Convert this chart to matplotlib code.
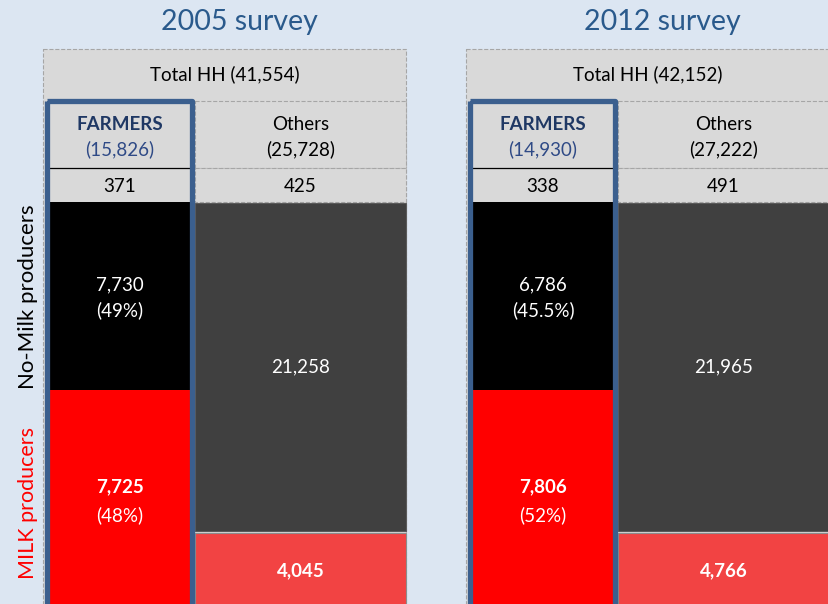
import matplotlib.pyplot as plt
from matplotlib.patches import Rectangle

plt.rcParams['font.family'] = ['Lato', 'DejaVu Sans']

# Survey data
surveys = ['2005 survey', '2012 survey']
total_hh = [41554, 42152]
farmers = [15826, 14930]
others = [25728, 27222]
farmers_missing = [371, 338]
others_missing = [425, 491]
farmers_nomilk = [7730, 6786]
farmers_nomilk_pct = ['49%', '45.5%']
farmers_milk = [7725, 7806]
farmers_milk_pct = ['48%', '52%']
others_nomilk = [21258, 21965]
others_milk = [4045, 4766]

bg = '#DCE6F2'
cell = '#D9D9D9'
navy = '#1F3864'
frame_blue = '#3B5F8E'
title_blue = '#2A5A8C'
fs = 13.5

fig = plt.figure(figsize=(8.29, 6.04), dpi=100, facecolor=bg)
ax = fig.add_axes([0, 0, 1, 1])
ax.set_xlim(0, 829)
ax.set_ylim(604, 0)
ax.axis('off')

# schematic layout (not to scale), in pixels
rows = {'total': (49, 101), 'head': (101, 168), 'miss': (168, 202),
        'nomilk': (202, 390), 'milk': (390, 615)}
oth_split = 531


def fmt(v):
    return f'{v:,}'


def rect(x0, y0, x1, y1, fc, ec='none', ls='-', lw=0.8, z=1):
    ax.add_patch(Rectangle((x0, y0), x1 - x0, y1 - y0, facecolor=fc,
                           edgecolor=ec, linestyle=ls, linewidth=lw, zorder=z))


def label(x, y, s, color='black', bold=False, size=fs):
    ax.text(x, y, s, ha='center', va='center', fontsize=size, color=color,
            fontweight='bold' if bold else 'normal', zorder=6)


for i, name in enumerate(surveys):
    dx = 423 * i
    L, R = 43.5 + dx, 406 + dx
    fL, fR = 50 + dx, 190 + dx
    oL = 195 + dx
    fc, oc = (fL + fR) / 2, (oL + R) / 2

    label((L + R) / 2 + 15, 22, name, color=title_blue, size=20.5)

    # total row + outer dashed border
    rect(L, rows['total'][0], R, 700, cell, '#A6A6A6', '--', 0.8)
    label((L + R) / 2, 74, f'Total HH ({fmt(total_hh[i])})')

    # others column
    rect(oL, rows['head'][0], R, rows['head'][1], cell, '#A6A6A6', '--', 0.8, 2)
    rect(oL, rows['miss'][0], R, rows['miss'][1], cell, '#A6A6A6', '--', 0.8, 2)
    ax.bar(oc, oth_split - 203, bottom=203, width=R - oL, color='#404040',
           edgecolor='#5A5A5A', linewidth=0.8, zorder=2)
    ax.bar(oc, 700, bottom=oth_split + 2, width=R - oL, color='#F24343',
           edgecolor='#8C8C8C', linewidth=0.8, zorder=2)
    label(oc, 124, 'Others')
    label(oc, 149, f'({fmt(others[i])})')
    label(oc, 186, fmt(others_missing[i]))
    label(oc, 367, fmt(others_nomilk[i]), color='white')
    label(oc, 571, fmt(others_milk[i]), color='white', bold=True)

    # farmers column
    rect(fL - 3, rows['head'][0], fR + 3, rows['miss'][1], cell, z=3)
    ax.plot([fL, fR], [168, 168], color='black', lw=0.9, zorder=4)
    ax.bar(fc, rows['nomilk'][1] - rows['nomilk'][0], bottom=rows['nomilk'][0],
           width=fR - fL + 2, color='black', zorder=3)
    ax.bar(fc, rows['milk'][1] - rows['milk'][0], bottom=rows['milk'][0],
           width=fR - fL + 2, color='#FF0000', zorder=3)
    label(fc, 124, 'FARMERS', color=navy, bold=True)
    label(fc, 149, f'({fmt(farmers[i])})', color='#2F4A86')
    label(fc, 186, fmt(farmers_missing[i]))
    label(fc, 285, fmt(farmers_nomilk[i]), color='white')
    label(fc, 310, f'({farmers_nomilk_pct[i]})', color='white')
    label(fc, 487, fmt(farmers_milk[i]), color='white', bold=True)
    label(fc, 515, f'({farmers_milk_pct[i]})', color='white')

    # blue frame round farmers
    ax.add_patch(Rectangle((47.5 + dx, 101), 145, 600, facecolor='none',
                           edgecolor=frame_blue, linewidth=3.8,
                           joinstyle='round', zorder=5))

# side labels
ax.text(28, 297, 'No-Milk producers', rotation=90, ha='center', va='center',
        fontsize=16, color='black')
ax.text(28, 503, 'MILK producers', rotation=90, ha='center', va='center',
        fontsize=15.5, color='#FF0000')

fig.savefig('out.png', dpi=100, facecolor=bg)
